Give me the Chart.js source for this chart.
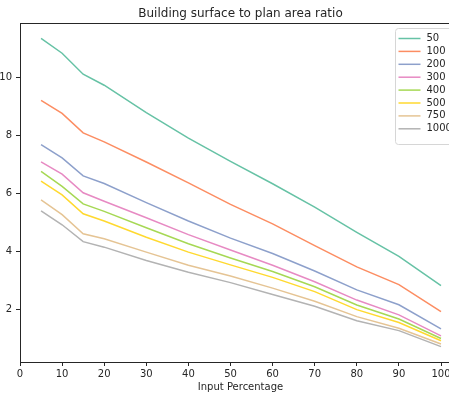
<!DOCTYPE html>
<html>
<head>
<meta charset="utf-8">
<script src="https://cdn.jsdelivr.net/npm/chart.js@4.4.0/dist/chart.umd.min.js"></script>
<style>
    html, body { margin: 0; padding: 0; background: #fff; overflow: hidden; }
    #wrap { position: relative; width: 449px; height: 394px; overflow: hidden; }
    #ratio-chart { position: absolute; left: -20px; top: 0; }
</style>
</head>
<body>
<div id="wrap"><canvas id="ratio-chart" width="490" height="394"></canvas></div>
<script>
// Input percentages sampled for every series
const inputPercent = [5, 10, 15, 20, 30, 40, 50, 60, 70, 80, 90, 100];

// One series per legend entry
const seriesNames = ['50', '100', '200', '300', '400', '500', '750', '1000'];
const ratio50   = [11.33, 10.82, 10.10, 9.72, 8.78, 7.90, 7.10, 6.33, 5.53, 4.66, 3.83, 2.83];
const ratio100  = [9.20, 8.75, 8.08, 7.77, 7.08, 6.36, 5.62, 4.95, 4.20, 3.47, 2.86, 1.93];
const ratio200  = [7.68, 7.22, 6.60, 6.34, 5.68, 5.05, 4.46, 3.93, 3.33, 2.68, 2.17, 1.34];
const ratio300  = [7.08, 6.66, 6.02, 5.73, 5.16, 4.58, 4.05, 3.53, 2.96, 2.33, 1.82, 1.10];
const ratio400  = [6.76, 6.24, 5.64, 5.38, 4.82, 4.27, 3.78, 3.31, 2.79, 2.16, 1.68, 1.01];
const ratio500  = [6.42, 5.95, 5.30, 5.05, 4.49, 3.98, 3.54, 3.11, 2.62, 2.00, 1.56, 0.93];
const ratio750  = [5.78, 5.27, 4.61, 4.44, 3.98, 3.53, 3.16, 2.74, 2.29, 1.76, 1.36, 0.82];
const ratio1000 = [5.40, 4.92, 4.34, 4.15, 3.69, 3.29, 2.93, 2.52, 2.12, 1.62, 1.28, 0.73];
const seriesValues = [ratio50, ratio100, ratio200, ratio300, ratio400, ratio500, ratio750, ratio1000];

// Axis ticks
const xTicks = [0, 10, 20, 30, 40, 50, 60, 70, 80, 90, 100];
const yTicks = [2, 4, 6, 8, 10];

// Set2 palette
const palette = ['#66c2a5', '#fc8d62', '#8da0cb', '#e78ac3', '#a6d854', '#ffd92f', '#e5c494', '#b3b3b3'];

const FONT = 'DejaVu Sans';
const INK = '#262626';

const datasets = seriesNames.map((name, i) => ({
    label: name,
    data: inputPercent.map((x, j) => ({ x: x, y: seriesValues[i][j] })),
    borderColor: palette[i],
    backgroundColor: palette[i],
    borderWidth: 1.5,
    pointRadius: 0,
    tension: 0,
    fill: false
}));

// Title, top spine and the boxed legend inside the axes
const framePlugin = {
    id: 'frame',
    afterDraw(chart) {
        const ctx = chart.ctx;
        const area = chart.chartArea;
        ctx.save();

        ctx.strokeStyle = INK;
        ctx.lineWidth = 1;
        ctx.beginPath();
        ctx.moveTo(area.left, area.top + 0.5);
        ctx.lineTo(area.right, area.top + 0.5);
        ctx.stroke();

        ctx.fillStyle = INK;
        ctx.font = '12px "' + FONT + '"';
        ctx.textAlign = 'center';
        ctx.textBaseline = 'middle';
        ctx.fillText('Building surface to plan area ratio', (area.left + area.right) / 2, 14);

        // legend
        const boxLeft = area.right - 65.5;
        const boxTop = area.top + 5.5;
        const boxW = 60;
        const boxH = 116;
        const r = 3;
        ctx.beginPath();
        ctx.moveTo(boxLeft + r, boxTop);
        ctx.arcTo(boxLeft + boxW, boxTop, boxLeft + boxW, boxTop + boxH, r);
        ctx.arcTo(boxLeft + boxW, boxTop + boxH, boxLeft, boxTop + boxH, r);
        ctx.arcTo(boxLeft, boxTop + boxH, boxLeft, boxTop, r);
        ctx.arcTo(boxLeft, boxTop, boxLeft + boxW, boxTop, r);
        ctx.closePath();
        ctx.fillStyle = 'rgba(255,255,255,0.85)';
        ctx.fill();
        ctx.strokeStyle = '#d6d6d6';
        ctx.stroke();

        ctx.font = '10px "' + FONT + '"';
        ctx.textAlign = 'left';
        chart.data.datasets.forEach((ds, i) => {
            const y = boxTop + 10 + i * 12.9;
            ctx.strokeStyle = ds.borderColor;
            ctx.lineWidth = 1.5;
            ctx.beginPath();
            ctx.moveTo(boxLeft + 3, y);
            ctx.lineTo(boxLeft + 25, y);
            ctx.stroke();
            ctx.fillStyle = INK;
            ctx.fillText(ds.label, boxLeft + 31, y);
        });
        ctx.restore();
    }
};

new Chart(document.getElementById('ratio-chart').getContext('2d'), {
    type: 'line',
    data: { datasets: datasets },
    options: {
        responsive: false,
        devicePixelRatio: 1,
        animation: false,
        layout: { padding: { top: 23, right: 9, left: 0, bottom: 0 } },
        plugins: {
            legend: { display: false },
            title: { display: false },
            tooltip: { enabled: false }
        },
        scales: {
            x: {
                type: 'linear',
                min: 0,
                max: 104.75,
                afterFit: (scale) => { scale.height = 32; },
                afterBuildTicks: (scale) => { scale.ticks = xTicks.map(v => ({ value: v })); },
                ticks: {
                    color: INK,
                    font: { family: FONT, size: 10 },
                    padding: 2,
                    maxRotation: 0,
                    autoSkip: false
                },
                grid: { drawOnChartArea: false, drawTicks: true, tickLength: 4, color: INK },
                border: { color: INK, width: 1 },
                title: {
                    display: true,
                    text: 'Input Percentage',
                    color: INK,
                    font: { family: FONT, size: 10 },
                    padding: { top: 0, bottom: 1 }
                }
            },
            y: {
                type: 'linear',
                min: 0.2,
                max: 11.86,
                afterFit: (scale) => { scale.width = 40; },
                afterBuildTicks: (scale) => { scale.ticks = yTicks.map(v => ({ value: v })); },
                ticks: {
                    color: INK,
                    font: { family: FONT, size: 10 },
                    padding: 4,
                    autoSkip: false
                },
                grid: { drawOnChartArea: false, drawTicks: true, tickLength: 4, color: INK },
                border: { color: INK, width: 1 }
            }
        }
    },
    plugins: [framePlugin]
});
</script>
</body>
</html>
